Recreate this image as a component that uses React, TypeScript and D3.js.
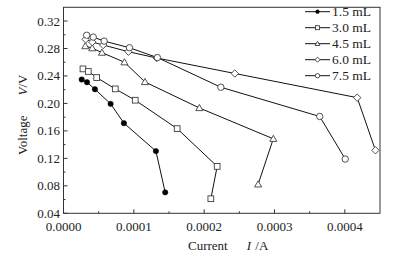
import React from "react";
import * as d3 from "d3";

const W = 395;
const H = 260;

const seriesNames = ["1.5 mL", "3.0 mL", "4.5 mL", "6.0 mL", "7.5 mL"];
const markerKinds = ["filledCircle", "square", "triangle", "diamond", "circle"];

const current15 = [0.0000259, 0.0000334, 0.0000447, 0.000067, 0.0000859, 0.0001314, 0.0001446];
const voltage15 = [0.2348, 0.2309, 0.2207, 0.1994, 0.1713, 0.1306, 0.0705];

const current30 = [0.0000277, 0.0000352, 0.0000472, 0.0000736, 0.000102, 0.0001616, 0.0002185, 0.0002095];
const voltage30 = [0.2503, 0.2465, 0.2377, 0.2212, 0.2047, 0.1633, 0.1083, 0.0612];

const current45 = [0.000031, 0.0000409, 0.0000547, 0.0000866, 0.0001158, 0.0001932, 0.0002983, 0.0002767];
const voltage45 = [0.2835, 0.2805, 0.274, 0.26, 0.2313, 0.1934, 0.1485, 0.0822];

const current60 = [0.0000315, 0.0000409, 0.0000565, 0.0000923, 0.0001324, 0.0002436, 0.0004176, 0.0004435];
const voltage60 = [0.2934, 0.2894, 0.2851, 0.2753, 0.2662, 0.2436, 0.2084, 0.1318];

const current75 = [0.0000330, 0.0000423, 0.0000578, 0.0000938, 0.0001335, 0.0002237, 0.0003643, 0.0004006];
const voltage75 = [0.2993, 0.2966, 0.2908, 0.2811, 0.2668, 0.2236, 0.181, 0.119];

const currents = [current15, current30, current45, current60, current75];
const voltages = [voltage15, voltage30, voltage45, voltage60, voltage75];

const xTicks = [0, 0.0001, 0.0002, 0.0003, 0.0004];
const xTickLabels = ["0.0000", "0.0001", "0.0002", "0.0003", "0.0004"];
const xMinor = [0.00005, 0.00015, 0.00025, 0.00035];
const yTicks = [0.04, 0.08, 0.12, 0.16, 0.2, 0.24, 0.28, 0.32];
const yTickLabels = ["0.04", "0.08", "0.12", "0.16", "0.20", "0.24", "0.28", "0.32"];
const yMinor = [0.06, 0.1, 0.14, 0.18, 0.22, 0.26, 0.3];

const FONT = "'Liberation Serif', 'Times New Roman', serif";
const TEXT = "#222";

function Marker({ kind, cx, cy, s }: { kind: string; cx: number; cy: number; s: number }) {
  const stroke = "#333";
  if (kind === "filledCircle") return <circle cx={cx} cy={cy} r={s * 0.42} fill="#000" stroke="#000" strokeWidth={0.5} />;
  if (kind === "circle") return <circle cx={cx} cy={cy} r={s * 0.5} fill="#fff" stroke={stroke} strokeWidth={0.85} />;
  if (kind === "square") {
    const h = s * 0.45;
    return <rect x={cx - h} y={cy - h} width={2 * h} height={2 * h} fill="#fff" stroke={stroke} strokeWidth={0.85} />;
  }
  if (kind === "triangle") {
    const h = s * 0.55;
    const p = `${cx},${cy - h} ${cx + h},${cy + h * 0.75} ${cx - h},${cy + h * 0.75}`;
    return <polygon points={p} fill="#fff" stroke={stroke} strokeWidth={0.85} />;
  }
  const h = s * 0.58;
  const p = `${cx},${cy - h} ${cx + h},${cy} ${cx},${cy + h} ${cx - h},${cy}`;
  return <polygon points={p} fill="#fff" stroke={stroke} strokeWidth={0.85} />;
}

export default function App() {
  const left = 63.5, right = 380, top = 7.3, bottom = 213.3;
  const x = d3.scaleLinear().domain([0, 0.00045]).range([left, right]);
  const y = d3.scaleLinear().domain([0.04, 0.34]).range([bottom, top]);
  const line = d3.line<[number, number]>().x((d) => x(d[0])).y((d) => y(d[1]));

  return (
    <svg width={W} height={H} style={{ position: "absolute", left: 0, top: 0, background: "#fff" }}>
      <rect x={0} y={0} width={W} height={H} fill="#fff" />
      {currents.map((cs, i) => {
        const pts: [number, number][] = cs.map((c, j) => [c, voltages[i][j]]);
        return (
          <g key={i}>
            <path d={line(pts) || ""} fill="none" stroke="#111" strokeWidth={1} />
            {pts.map((p, j) => (
              <Marker key={j} kind={markerKinds[i]} cx={x(p[0])} cy={y(p[1])} s={6.4} />
            ))}
          </g>
        );
      })}
      <rect x={left} y={top} width={right - left} height={bottom - top} fill="none" stroke="#333" strokeWidth={1} />
      {xTicks.map((t, i) => (
        <g key={i}>
          <line x1={x(t)} x2={x(t)} y1={bottom} y2={bottom - 4} stroke="#333" />
          <text x={x(t)} y={230.5} textAnchor="middle" fontFamily={FONT} fontSize={13} fill={TEXT}>
            {xTickLabels[i]}
          </text>
        </g>
      ))}
      {xMinor.map((t, i) => (
        <line key={i} x1={x(t)} x2={x(t)} y1={bottom} y2={bottom - 2} stroke="#333" />
      ))}
      {yTicks.map((t, i) => (
        <g key={i}>
          <line x1={left} x2={left + 4} y1={y(t)} y2={y(t)} stroke="#333" />
          <text x={60} y={y(t) + 4.5} textAnchor="end" fontFamily={FONT} fontSize={13} fill={TEXT}>
            {yTickLabels[i]}
          </text>
        </g>
      ))}
      {yMinor.map((t, i) => (
        <line key={i} x1={left} x2={left + 2} y1={y(t)} y2={y(t)} stroke="#333" />
      ))}
      <text x={188} y={249.5} fontFamily={FONT} fontSize={13} fill={TEXT}>
        Current
        <tspan dx={19} fontStyle="italic">I</tspan>
        <tspan dx={1}> /A</tspan>
      </text>
      <text transform="translate(27,155) rotate(-90)" x={0} y={0} fontFamily={FONT} fontSize={13} fill={TEXT}>
        Voltage
        <tspan dx={20} fontStyle="italic">V</tspan>
        <tspan>/V</tspan>
      </text>
      {seriesNames.map((n, i) => {
        const ly = 11.7 + i * 16;
        return (
          <g key={i}>
            <line x1={305} x2={330} y1={ly} y2={ly} stroke="#111" strokeWidth={1} />
            <Marker kind={markerKinds[i]} cx={317.5} cy={ly} s={4.4} />
            <text x={332} y={ly + 4.5} fontFamily={FONT} fontSize={13.5} fill={TEXT}>
              {n}
            </text>
          </g>
        );
      })}
    </svg>
  );
}
